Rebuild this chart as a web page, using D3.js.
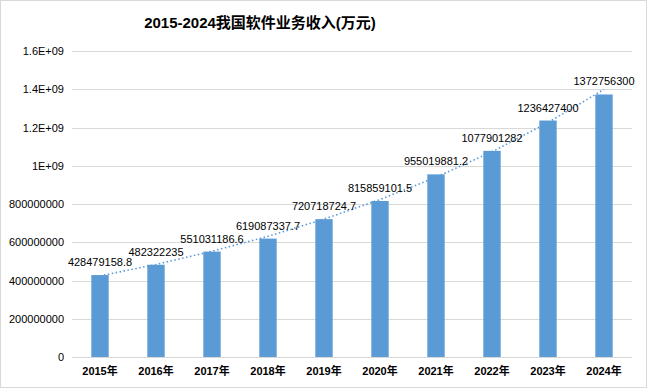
<!DOCTYPE html>
<html>
<head>
<meta charset="utf-8">
<script src="https://cdn.jsdelivr.net/npm/d3@7"></script>
<style>
  body { margin: 0; background: #fff; }
  svg text { font-family: "Liberation Sans", "Noto Sans CJK SC", sans-serif; }
</style>
</head>
<body>
<div id="chart"></div>
<script>
// data
const years = ['2015年', '2016年', '2017年', '2018年', '2019年', '2020年', '2021年', '2022年', '2023年', '2024年'];
const revenue = [428479158.8, 482322235, 551031186.6, 619087337.7, 720718724.7, 815859101.5, 955019881.2, 1077901282, 1236427400, 1372756300];
const valueLabels = ['428479158.8', '482322235', '551031186.6', '619087337.7', '720718724.7', '815859101.5', '955019881.2', '1077901282', '1236427400', '1372756300'];
// dotted trend line
const trend = [424000000, 484000000, 553000000, 631000000, 721000000, 823000000, 940000000, 1073000000, 1226000000, 1399000000];
const yTicks = [0, 200000000, 400000000, 600000000, 800000000, 1000000000, 1200000000, 1400000000, 1600000000];
const yTickLabels = ['0', '200000000', '400000000', '600000000', '800000000', '1E+09', '1.2E+09', '1.4E+09', '1.6E+09'];
const title = '2015-2024我国软件业务收入(万元)';

const width = 647, height = 391;
const margin = {top: 51, right: 15, bottom: 34, left: 72};

const svg = d3.select('#chart').append('svg')
    .attr('width', width)
    .attr('height', height);

// outer border
svg.append('rect')
    .attr('x', 0.5).attr('y', 0.5)
    .attr('width', width - 1).attr('height', height - 4)
    .attr('fill', '#fff')
    .attr('stroke', '#d9d9d9');

const xScale = d3.scaleBand()
    .domain(years)
    .range([margin.left, width - margin.right])
    .paddingInner(0.69)
    .paddingOuter(0.345);

const yScale = d3.scaleLinear()
    .domain([0, 1600000000])
    .range([height - margin.bottom, margin.top]);

// gridlines
svg.append('g')
    .selectAll('line')
    .data(yTicks)
    .join('line')
    .attr('x1', margin.left)
    .attr('x2', width - margin.right)
    .attr('y1', d => Math.round(yScale(d)) + 0.5)
    .attr('y2', d => Math.round(yScale(d)) + 0.5)
    .attr('stroke', '#d9d9d9')
    .attr('stroke-width', 1);

// y axis labels
const yAxis = d3.axisLeft(yScale)
    .tickValues(yTicks)
    .tickFormat((d, i) => yTickLabels[i])
    .tickSize(0)
    .tickPadding(8);

svg.append('g')
    .attr('transform', `translate(${margin.left},0)`)
    .call(yAxis)
    .call(g => g.select('.domain').remove())
    .selectAll('text')
    .attr('font-size', 11)
    .attr('fill', '#000')
    .style('font-family', '"Liberation Sans", sans-serif');

// x axis labels
const xAxis = d3.axisBottom(xScale).tickSize(0).tickPadding(10);
svg.append('g')
    .attr('transform', `translate(0,${yScale(0)})`)
    .call(xAxis)
    .call(g => g.select('.domain').remove())
    .selectAll('text')
    .attr('font-size', 11)
    .attr('font-weight', 'bold')
    .attr('fill', '#000');

// bars
svg.append('g')
    .selectAll('rect')
    .data(revenue)
    .join('rect')
    .attr('x', (d, i) => xScale(years[i]))
    .attr('y', d => yScale(d))
    .attr('width', xScale.bandwidth())
    .attr('height', d => yScale(0) - yScale(d))
    .attr('fill', '#5b9bd5');

// trend line
const line = d3.line()
    .x((d, i) => xScale(years[i]) + xScale.bandwidth() / 2)
    .y(d => yScale(d));

svg.append('path')
    .datum(trend)
    .attr('d', line)
    .attr('fill', 'none')
    .attr('stroke', '#5b9bd5')
    .attr('stroke-width', 1.6)
    .attr('stroke-dasharray', '1.5 2.5');

// value labels
svg.append('g')
    .selectAll('text')
    .data(revenue)
    .join('text')
    .attr('x', (d, i) => xScale(years[i]) + xScale.bandwidth() / 2)
    .attr('y', d => yScale(d) - 9)
    .attr('text-anchor', 'middle')
    .attr('font-size', 11)
    .attr('fill', '#000')
    .text((d, i) => valueLabels[i]);

// title
svg.append('text')
    .attr('x', 260)
    .attr('y', 28)
    .attr('text-anchor', 'middle')
    .attr('font-size', 15)
    .attr('font-weight', 'bold')
    .attr('fill', '#000')
    .text(title);
</script>
</body>
</html>
